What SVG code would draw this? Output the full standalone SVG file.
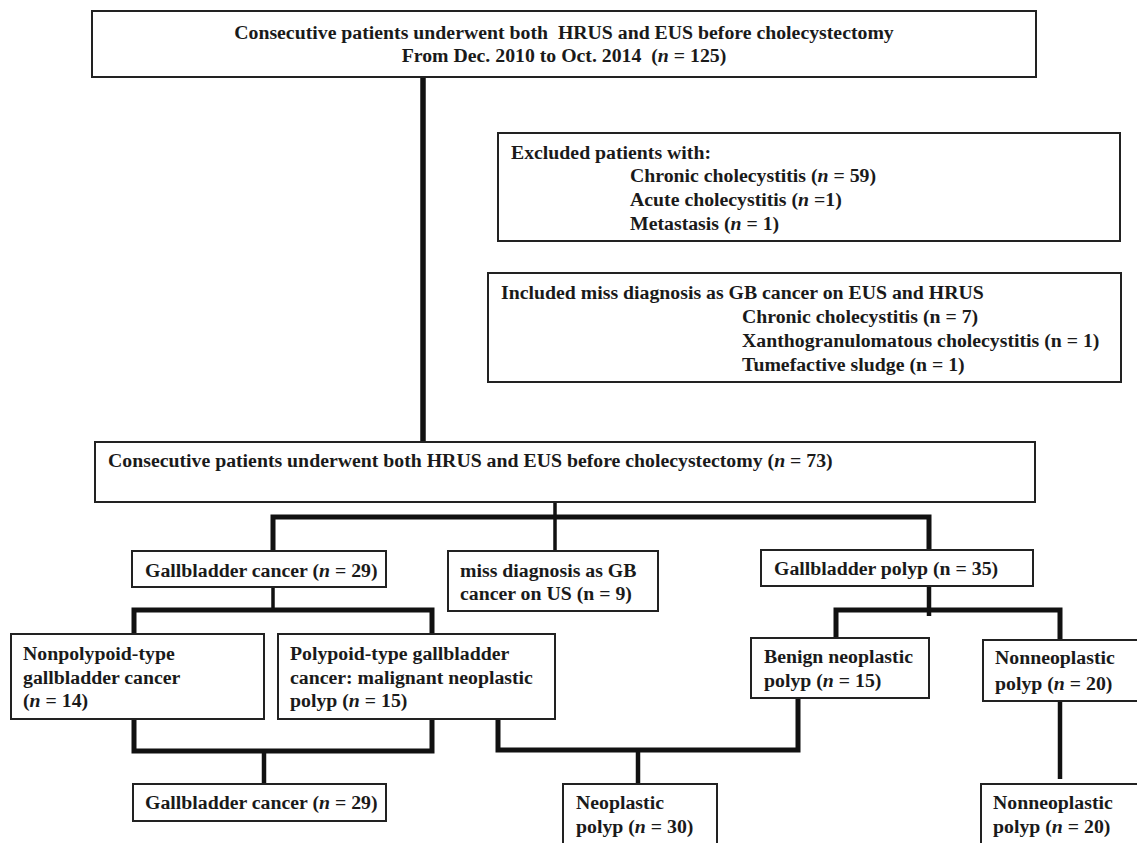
<svg xmlns="http://www.w3.org/2000/svg" width="1137" height="843" viewBox="0 0 1137 843">
<style>
.box{fill:#fff;stroke:#222;stroke-width:2}
text{font-family:"Liberation Serif","Times New Roman",serif;font-weight:bold;font-size:19.8px;fill:#1a1a1a}
.i{font-style:italic}
.c{stroke:#111;fill:none;stroke-linecap:butt;stroke-linejoin:miter}
.bar{stroke-width:5}
.drop{stroke-width:4.5}
.thin{stroke-width:3.5}
</style>
<rect width="1137" height="843" fill="#fff"/>
<g id="connectors">
<line class="c" x1="423" y1="77" x2="423" y2="442" stroke-width="5.5"/>
<line class="c thin" x1="555" y1="498" x2="555" y2="551"/>
<path class="c bar" d="M273,551 V517 H929 V552"/>
<line class="c thin" x1="273" y1="587" x2="273" y2="610"/>
<path class="c bar" d="M134,634 V610 H432 V634"/>
<line class="c drop" x1="929" y1="586" x2="929" y2="616"/>
<path class="c bar" d="M836,640 V610 H1060 V644"/>
<path class="c bar" d="M134,717 V751 H432 V717"/>
<line class="c drop" x1="264" y1="751" x2="264" y2="784"/>
<path class="c bar" d="M498,717 V750 H798 V699"/>
<line class="c drop" x1="638" y1="750" x2="638" y2="784"/>
<line class="c drop" x1="1060" y1="701" x2="1060" y2="779"/>
</g>
<g id="top">
<rect class="box" x="92" y="11" width="944" height="66"/>
<text x="564" y="39" text-anchor="middle" xml:space="preserve">Consecutive patients underwent both  HRUS and EUS before cholecystectomy</text>
<text x="564" y="62" text-anchor="middle" xml:space="preserve">From Dec. 2010 to Oct. 2014  (<tspan class="i">n</tspan> = 125)</text>
</g>
<g id="excluded">
<rect class="box" x="498" y="133" width="622" height="108"/>
<text x="511" y="159">Excluded patients with:</text>
<text x="630" y="182">Chronic cholecystitis (<tspan class="i">n</tspan> = 59)</text>
<text x="630" y="206">Acute cholecystitis (<tspan class="i">n</tspan> =1)</text>
<text x="630" y="230">Metastasis (<tspan class="i">n</tspan> = 1)</text>
</g>
<g id="included">
<rect class="box" x="488" y="273" width="633" height="109"/>
<text x="501" y="299">Included miss diagnosis as GB cancer on EUS and HRUS</text>
<text x="742" y="323">Chronic cholecystitis (n = 7)</text>
<text x="742" y="347">Xanthogranulomatous cholecystitis (n = 1)</text>
<text x="742" y="371">Tumefactive sludge (n = 1)</text>
</g>
<g id="cohort">
<rect class="box" x="95" y="442" width="940" height="60"/>
<text x="108" y="467">Consecutive patients underwent both HRUS and EUS before cholecystectomy (<tspan class="i">n</tspan> = 73)</text>
</g>
<g id="gbcancer">
<rect class="box" x="132" y="551" width="254" height="36"/>
<text x="145" y="577">Gallbladder cancer (<tspan class="i">n</tspan> = 29)</text>
</g>
<g id="miss">
<rect class="box" x="448" y="551" width="210" height="60"/>
<text x="460" y="577">miss diagnosis as GB</text>
<text x="460" y="600">cancer on US (n = 9)</text>
</g>
<g id="gbpolyp">
<rect class="box" x="761" y="550" width="272" height="36"/>
<text x="774" y="575">Gallbladder polyp (n = 35)</text>
</g>
<g id="nonpolypoid">
<rect class="box" x="11" y="634" width="253" height="85"/>
<text x="23" y="660">Nonpolypoid-type</text>
<text x="23" y="684">gallbladder cancer</text>
<text x="23" y="707">(<tspan class="i">n</tspan> = 14)</text>
</g>
<g id="polypoid">
<rect class="box" x="278" y="634" width="277" height="85"/>
<text x="290" y="660">Polypoid-type gallbladder</text>
<text x="290" y="684">cancer: malignant neoplastic</text>
<text x="290" y="707">polyp (<tspan class="i">n</tspan> = 15)</text>
</g>
<g id="benign">
<rect class="box" x="751" y="638" width="178" height="60"/>
<text x="764" y="663">Benign neoplastic</text>
<text x="764" y="687">polyp (<tspan class="i">n</tspan> = 15)</text>
</g>
<g id="nonneoplastic">
<rect class="box" x="983" y="640" width="170" height="61"/>
<text x="995" y="664">Nonneoplastic</text>
<text x="995" y="690">polyp (<tspan class="i">n</tspan> = 20)</text>
</g>
<g id="gbcancer-final">
<rect class="box" x="133" y="784" width="253" height="37"/>
<text x="145" y="809">Gallbladder cancer (<tspan class="i">n</tspan> = 29)</text>
</g>
<g id="neoplastic-final">
<rect class="box" x="563" y="784" width="154" height="70"/>
<text x="576" y="809">Neoplastic</text>
<text x="576" y="833">polyp (<tspan class="i">n</tspan> = 30)</text>
</g>
<g id="nonneoplastic-final">
<rect class="box" x="981" y="784" width="170" height="70"/>
<text x="993" y="809">Nonneoplastic</text>
<text x="993" y="833">polyp (<tspan class="i">n</tspan> = 20)</text>
</g>
</svg>
